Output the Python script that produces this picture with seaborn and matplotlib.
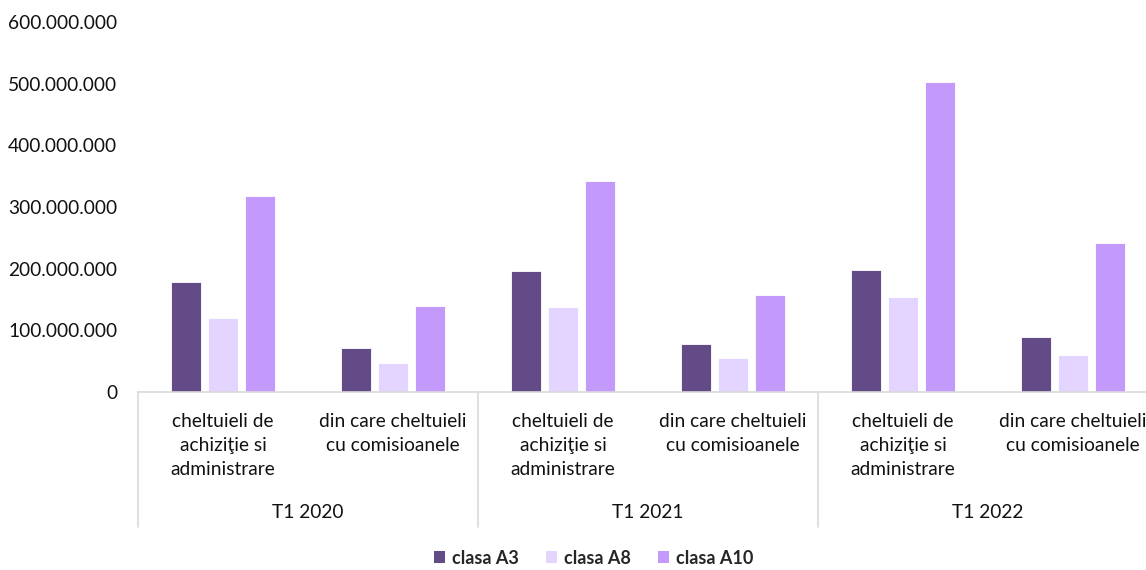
import seaborn as sns
import pandas as pd
import matplotlib.pyplot as plt
from matplotlib.ticker import FuncFormatter
from matplotlib.patches import Patch
import matplotlib.transforms as mtransforms

periods = ["T1 2020", "T1 2021", "T1 2022"]
items = ["cheltuieli de\nachiziţie si\nadministrare", "din care cheltuieli\ncu comisioanele"]
classes = ["clasa A3", "clasa A8", "clasa A10"]

# values per class, in order: (2020 item1, 2020 item2, 2021 item1, 2021 item2, 2022 item1, 2022 item2)
clasa_a3 = [178e6, 71e6, 196e6, 78e6, 198e6, 89e6]
clasa_a8 = [120e6, 47e6, 138e6, 55e6, 154e6, 60e6]
clasa_a10 = [318e6, 139e6, 342e6, 157e6, 503e6, 242e6]

colors = {"clasa A3": "#634b87", "clasa A8": "#e3d5ff", "clasa A10": "#c499fc"}

keys = [f"{p}|{i}" for p in periods for i in items]
rows = []
for cls, vals in zip(classes, [clasa_a3, clasa_a8, clasa_a10]):
    for k, v in zip(keys, vals):
        rows.append({"cat": k, "clasa": cls, "value": v})
df = pd.DataFrame(rows)

sns.set_style("white")
plt.rcParams["font.family"] = ["Lato", "DejaVu Sans"]

fig = plt.figure(figsize=(11.46, 5.70), dpi=100)
ax = fig.add_axes([138 / 1146, 178 / 570, 1020 / 1146, 370 / 570])

sns.barplot(data=df, x="cat", y="value", hue="clasa", order=keys, hue_order=classes,
            palette=colors, saturation=1, width=0.66, gap=0.2, edgecolor="white",
            linewidth=0.6, legend=False, ax=ax)

ax.set_xlim(-0.5, len(keys) - 0.5)
ax.set_ylim(0, 600e6)
ax.set_yticks(range(0, 600_000_001, 100_000_000))
ax.yaxis.set_major_formatter(FuncFormatter(lambda v, p: f"{int(v):,}".replace(",", ".")))
ax.tick_params(axis="y", length=0, pad=15, labelsize=13.8, labelcolor="#111111")
ax.tick_params(axis="x", length=0, pad=15, labelsize=13.8, labelcolor="#111111")
ax.set_xticks(range(len(keys)))
ax.set_xticklabels([k.split("|")[1] for k in keys], linespacing=1.5, va="top")
ax.set_xlabel("")
ax.set_ylabel("")

for s in ["top", "right", "left"]:
    ax.spines[s].set_visible(False)
ax.spines["bottom"].set_color("#d9d9d9")
ax.spines["bottom"].set_linewidth(1.2)

trans = mtransforms.blended_transform_factory(ax.transData, ax.transAxes)
for x in [-0.5, 1.5, 3.5, 5.5]:
    ax.plot([x, x], [0, -0.365], transform=trans, color="#d9d9d9", lw=1.2, clip_on=False)
for i, p in enumerate(periods):
    ax.text(2 * i + 0.5, -0.327, p, transform=trans, ha="center", va="center",
            fontsize=13.8, color="#111111")

handles = [Patch(facecolor=colors[c], edgecolor="none", label=c) for c in classes]
fig.legend(handles=handles, loc="center", bbox_to_anchor=(0.518, 0.021), ncol=3,
           frameon=False, handlelength=0.6, handleheight=0.6, handletextpad=0.4,
           columnspacing=1.5, prop={"weight": "bold", "size": 13})

fig.savefig("out.png", dpi=100)
